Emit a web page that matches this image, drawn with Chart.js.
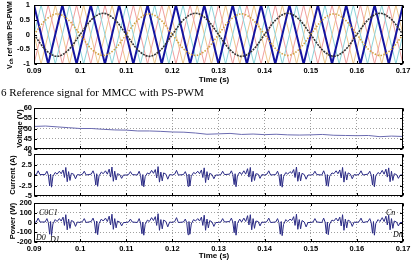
<!DOCTYPE html>
<html><head><meta charset="utf-8">
<script src="https://cdn.jsdelivr.net/npm/chart.js@4/dist/chart.umd.min.js"></script>
<style>
html,body{margin:0;padding:0;background:#fff;width:416px;height:263px;overflow:hidden;}
canvas{position:absolute;left:0;top:0;}
</style></head><body>
<canvas id="c1" width="416" height="263"></canvas>
<canvas id="c2" width="416" height="263"></canvas>
<canvas id="c3" width="416" height="263"></canvas>
<canvas id="c4" width="416" height="263"></canvas>
<script>
// ---------- data ----------
const xTickVals=[0.09,0.1,0.11,0.12,0.13,0.14,0.15,0.16,0.17];
const xTickLabels=['0.09','0.1','0.11','0.12','0.13','0.14','0.15','0.16','0.17'];
const refTickVals=[-1,-0.5,0,0.5,1];
const refTickLabels=['-1','-0.5','0','0.5','1'];
const voltTickVals=[40,45,50,55,60];
const voltTickLabels=['40','45','50','55','60'];
const currTickVals=[-5,-2.5,0,2.5,5];
const currTickLabels=['-5','-2.5','0','2.5','5'];
const powTickVals=[-200,-100,0,100,200];
const powTickLabels=['-200','-100','0','100','200'];

const carrierVertexTimes=[0.09,0.09308,0.09615,0.09923,0.10231,0.10538,0.10846,0.11154,0.11462,0.11769,0.12077,0.12385,0.12692,0.13,0.13308,0.13615,0.13923,0.14231,0.14538,0.14846,0.15154,0.15462,0.15769,0.16077,0.16385,0.16692,0.17];
const carrierVertexLevels=[1,-1,1,-1,1,-1,1,-1,1,-1,1,-1,1,-1,1,-1,1,-1,1,-1,1,-1,1,-1,1,-1,1];
const carrierShifts=[0,0.00154,0.00308,0.00462];

const sineTimes=[0.09,0.0925,0.095,0.0975,0.1,0.1025,0.105,0.1075,0.11,0.1125,0.115,0.1175,0.12,0.1225,0.125,0.1275,0.13,0.1325,0.135,0.1375,0.14,0.1425,0.145,0.1475,0.15,0.1525,0.155,0.1575,0.16,0.1625,0.165,0.1675,0.17];
const refBlack=[0,-0.52,-0.74,-0.52,0,0.51,0.72,0.51,0,-0.52,-0.74,-0.52,0,0.51,0.72,0.51,0,-0.52,-0.74,-0.52,0,0.51,0.72,0.51,0,-0.52,-0.74,-0.52,0,0.51,0.72,0.51,0];
const refOrange=[0,0.49,0.70,0.49,0,-0.50,-0.71,-0.50,0,0.49,0.70,0.49,0,-0.50,-0.71,-0.50,0,0.49,0.70,0.49,0,-0.50,-0.71,-0.50,0,0.49,0.70,0.49,0,-0.50,-0.71,-0.50,0];

const voltage=[51.0,51.2,50.8,50.4,50.0,50.0,49.6,49.3,49.2,48.8,48.8,48.6,48.3,48.2,47.8,47.2,47.4,47.6,47.1,47.3,47.0,47.2,46.9,46.8,46.9,47.1,46.7,46.6,46.5,46.6,46.0,46.3,46.1];

const cycleStarts=[0.09,0.10,0.11,0.12,0.13,0.14,0.15,0.16];
const cycleOffsetsMs=[0,0.5,0.9,1.3,2.4,2.8,3.1,3.4,3.6,3.8,4.1,4.6,5.0,5.5,5.9,6.3,6.6,6.9,7.2,7.5,7.8,8.1,8.6,9.0,9.4];
const spikeEndTime=0.17;
const currentCycles=[
[0,0.1,1.0,0.1,0.1,0.9,0.0,-2.6,0.2,-2.9,-0.3,0.6,0.2,0.9,0.3,1.2,-0.6,1.8,-1.6,0.8,-1.3,0.4,0.2,-0.9,0.1],
[0,0.2,0.9,0.0,0.2,1.0,0.1,-2.4,0.3,-2.7,-0.2,0.7,0.3,1.0,0.2,1.4,-0.5,1.9,-1.5,0.9,-1.2,0.3,0.1,-0.8,0.0],
[0,0.1,0.8,0.1,0.0,0.9,-0.1,-2.5,0.1,-2.8,-0.4,0.5,0.2,1.1,0.4,1.3,-0.7,2.0,-1.7,0.7,-1.4,0.5,0.2,-1.0,0.1],
[0,0.2,1.1,0.0,0.1,0.8,0.0,-2.7,0.2,-2.6,-0.3,0.6,0.3,0.9,0.3,1.2,-0.6,1.7,-1.8,0.8,-1.2,0.4,0.1,-0.9,0.0],
[0,0.1,0.9,0.1,0.2,1.0,0.1,-2.3,0.3,-2.8,-0.2,0.7,0.1,1.0,0.2,1.5,-0.5,1.8,-1.6,0.9,-1.3,0.3,0.2,-0.8,0.1],
[0,0.2,1.0,0.0,0.1,0.9,0.0,-2.6,0.2,-2.9,-0.4,0.6,0.2,0.8,0.4,1.3,-0.6,1.9,-1.5,0.7,-1.4,0.4,0.1,-1.0,0.0],
[0,0.1,0.9,0.1,0.0,1.0,0.1,-2.5,0.1,-2.7,-0.3,0.5,0.3,1.0,0.3,1.2,-0.7,1.8,-1.7,0.8,-1.2,0.5,0.2,-0.9,0.1],
[0,0.2,1.0,0.0,0.2,0.9,0.0,-2.4,0.2,-2.8,-0.2,0.6,0.2,1.1,0.2,1.4,-0.5,1.7,-1.6,0.9,-1.3,0.3,0.1,-0.8,0.0]];
const currentEnd=0;
const powerCycles=[
[0,5,45,5,5,40,0,-120,10,-135,-15,30,10,40,15,55,-30,80,-75,35,-60,20,10,-40,5],
[0,10,40,0,10,45,5,-110,15,-125,-10,35,15,45,10,65,-25,85,-70,40,-55,15,5,-35,0],
[0,5,35,5,0,40,-5,-115,5,-130,-20,25,10,50,20,60,-30,90,-80,30,-65,25,10,-45,5],
[0,10,50,0,5,35,0,-125,10,-120,-15,30,15,40,15,55,-30,75,-80,35,-55,20,5,-40,0],
[0,5,40,5,10,45,5,-105,15,-130,-10,35,5,45,10,70,-25,80,-75,40,-60,15,10,-35,5],
[0,10,45,0,5,40,0,-120,10,-135,-20,30,10,35,20,60,-30,85,-70,30,-65,20,5,-45,0],
[0,5,40,5,0,45,5,-115,5,-125,-15,25,15,45,15,55,-35,80,-80,35,-55,25,10,-40,5],
[0,10,45,0,10,40,0,-110,10,-130,-10,30,10,50,10,65,-25,75,-75,40,-60,15,5,-35,0]];
const powerEnd=0;

// ---------- helpers ----------
const W=416,H=263,RIGHT=403,LEFT=34;
const tickFont={family:'Liberation Sans',size:7.5,weight:'bold'};

function carrierPoints(shift){
  const T2=carrierVertexTimes[1]-carrierVertexTimes[0];
  const pts=[{x:carrierVertexTimes[0]-2*T2+shift,y:carrierVertexLevels[0]},{x:carrierVertexTimes[0]-T2+shift,y:carrierVertexLevels[1]}];
  carrierVertexTimes.forEach((t,i)=>pts.push({x:t+shift,y:carrierVertexLevels[i]}));
  return pts;
}
function seriesPoints(ts,vs){return ts.map((t,i)=>({x:t,y:vs[i]}));}
function cyclePoints(cycles,endVal){
  const pts=[];
  cycleStarts.forEach((s,ci)=>cycleOffsetsMs.forEach((o,k)=>pts.push({x:s+o/1000,y:cycles[ci][k]})));
  pts.push({x:spikeEndTime,y:endVal});
  return pts;
}

const framePlugin={id:'frame',afterDraw(ch){
  const {ctx,chartArea:a,scales}=ch;
  ctx.save();
  ctx.strokeStyle='#000';ctx.lineWidth=1;
  const l=Math.round(a.left)+0.5,t=Math.round(a.top)+0.5,r=Math.round(a.right)-0.5,b=Math.round(a.bottom)-0.5;
  ctx.strokeRect(l,t,r-l,b-t);
  ctx.beginPath();
  scales.x.ticks.forEach(tk=>{const x=Math.round(scales.x.getPixelForValue(tk.value))+0.5;ctx.moveTo(x,b);ctx.lineTo(x,b-2.5);ctx.moveTo(x,t);ctx.lineTo(x,t+2.5);});
  scales.y.ticks.forEach(tk=>{const y=Math.round(scales.y.getPixelForValue(tk.value))+0.5;ctx.moveTo(l,y);ctx.lineTo(l+2.5,y);ctx.moveTo(r,y);ctx.lineTo(r-2.5,y);});
  ctx.stroke();
  ctx.restore();
}};

function fitFont(ctx,text,family,weight,style,width){
  ctx.font=`${style} ${weight} 100px "${family}"`;
  const w=ctx.measureText(text).width;
  return 100*width/w;
}

const textPlugin={id:'texts',afterDraw(ch){
  const ctx=ch.ctx;
  ctx.save();
  ctx.fillStyle='#000';
  // top y title with subscript
  ctx.save();
  ctx.translate(10,35);ctx.rotate(-Math.PI/2);
  ctx.textBaseline='middle';ctx.textAlign='left';
  const parts=[['V',7,0],['ch',5,2],[' ref with PS-PWM',7,0]];
  let tot=0;parts.forEach(p=>{ctx.font=`bold ${p[1]}px "Liberation Sans"`;tot+=ctx.measureText(p[0]).width;});
  const sc=68/tot;let x=-68/2;
  parts.forEach(p=>{ctx.font=`bold ${p[1]*sc}px "Liberation Sans"`;ctx.fillText(p[0],x,p[2]);x+=ctx.measureText(p[0]).width;});
  ctx.restore();
  // x titles
  ctx.font='bold 8px "Liberation Sans"';ctx.textAlign='center';ctx.textBaseline='middle';
  ctx.fillText('Time (s)',214,80);
  ctx.fillText('Time (s)',214,256);
  // y titles lower
  const yt=[['Voltage (V)',20,128.5,7.5],['Current (A)',13,175,7.5],['Power (W)',13,221,7.5]];
  yt.forEach(([s,xx,yy,f])=>{
    ctx.save();ctx.translate(xx,yy);ctx.rotate(-Math.PI/2);
    ctx.font=`bold ${f}px "Liberation Sans"`;ctx.textAlign='center';ctx.textBaseline='middle';
    ctx.fillText(s,0,0);ctx.restore();
  });
  // captions
  ctx.textAlign='left';ctx.textBaseline='alphabetic';
  const cap1='6 Reference signal for MMCC with PS-PWM';
  let fs=fitFont(ctx,cap1,'Liberation Serif','normal','normal',203);
  ctx.font=`${fs}px "Liberation Serif"`;ctx.fillText(cap1,1,96);
  const cap2='7 Capacitor voltage, current and power with PS-PWM';
  fs=fitFont(ctx,cap2,'Liberation Serif','normal','normal',235);
  ctx.font=`${fs}px "Liberation Serif"`;ctx.fillText(cap2,1,270);
  // annotations
  ctx.font='italic 8px "Liberation Serif"';ctx.textBaseline='middle';
  ctx.fillText('C0C1',39,213);
  ctx.fillText('D0',36,238);
  ctx.fillText('D1..',50,240);
  ctx.fillText('Cn',386,213);
  ctx.fillText('Dn',393,235);
  ctx.restore();
}};

function makeChart(id,opt){
  const xh=opt.showX?10:0;
  const cfg={
    type:'line',
    data:{datasets:opt.datasets},
    options:{
      responsive:false,animation:false,devicePixelRatio:1,
      events:[],
      layout:{padding:{left:0,right:W-RIGHT,top:opt.top,bottom:H-opt.bottom-xh}},
      plugins:{legend:{display:false},tooltip:{enabled:false},title:{display:false}},
      elements:{point:{radius:0},line:{tension:0}},
      scales:{
        x:{type:'linear',min:0.09,max:0.17,
          afterBuildTicks:s=>{s.ticks=xTickVals.map(v=>({value:v}));},
          afterFit:s=>{s.height=xh;s.paddingLeft=0;s.paddingRight=0;},
          ticks:{display:opt.showX,callback:(v,i)=>xTickLabels[i],font:tickFont,color:'#000',padding:2,maxRotation:0,autoSkip:false},
          grid:{display:opt.grid,drawTicks:false,color:'#a0a0a0',lineWidth:1},
          border:{display:false,dash:[1,2]}},
        y:{type:'linear',min:opt.yVals[0],max:opt.yVals[opt.yVals.length-1],
          afterBuildTicks:s=>{s.ticks=opt.yVals.map(v=>({value:v}));},
          afterFit:s=>{s.width=LEFT;s.paddingTop=0;s.paddingBottom=0;},
          ticks:{callback:(v,i)=>opt.yLabels[i],font:tickFont,color:'#000',padding:opt.ypad,autoSkip:false},
          grid:{display:opt.grid,drawTicks:false,color:'#a0a0a0',lineWidth:1},
          border:{display:false,dash:[1,2]}}
      }
    },
    plugins:opt.plugins
  };
  return new Chart(document.getElementById(id),cfg);
}

const carrierColors=['#1414a0','#8cd4da','#f0a0a0','#eec68e'];
const carrierWidths=[2,1,1,1];
const topSets=[
  {data:seriesPoints(sineTimes,refBlack),borderColor:'#333333',borderWidth:1.6,borderDash:[2,1],cubicInterpolationMode:'monotone'},
  {data:seriesPoints(sineTimes,refOrange),borderColor:'#d0a040',borderWidth:1.6,borderDash:[1.5,1.5],cubicInterpolationMode:'monotone'}
];
carrierShifts.forEach((s,i)=>topSets.push({data:carrierPoints(s),borderColor:carrierColors[i],borderWidth:carrierWidths[i]}));

makeChart('c1',{top:5,bottom:64,showX:true,grid:false,yVals:refTickVals,yLabels:refTickLabels,ypad:4,datasets:topSets,plugins:[framePlugin]});
makeChart('c2',{top:108,bottom:149,showX:false,grid:true,yVals:voltTickVals,yLabels:voltTickLabels,ypad:2,
  datasets:[{data:seriesPoints(sineTimes,voltage),borderColor:'#6a6ab0',borderWidth:1}],plugins:[framePlugin]});
makeChart('c3',{top:154,bottom:196,showX:false,grid:true,yVals:currTickVals,yLabels:currTickLabels,ypad:2,
  datasets:[{data:cyclePoints(currentCycles,currentEnd),borderColor:'#2a2a85',borderWidth:1}],plugins:[framePlugin]});
makeChart('c4',{top:203,bottom:242,showX:true,grid:true,yVals:powTickVals,yLabels:powTickLabels,ypad:2,
  datasets:[{data:cyclePoints(powerCycles,powerEnd),borderColor:'#2a2a85',borderWidth:1}],plugins:[framePlugin,textPlugin]});
</script>
</body></html>
